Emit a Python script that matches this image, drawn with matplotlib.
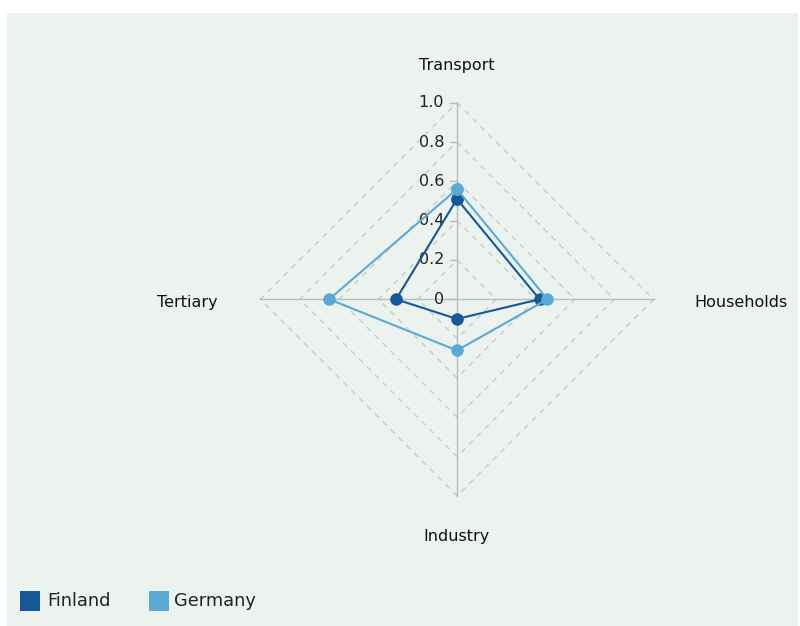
import numpy as np
import matplotlib
matplotlib.use("Agg")
import matplotlib.pyplot as plt
from matplotlib.patches import Rectangle

plt.rcParams["font.family"] = ["DejaVu Sans"]

# axes of the radar: top, right, bottom, left
categories = ["Transport", "Households", "Industry", "Tertiary"]
finland = [0.51, 0.42, 0.10, 0.31]
germany = [0.56, 0.46, 0.26, 0.65]
tick_values = [0, 0.2, 0.4, 0.6, 0.8, 1.0]
tick_labels = ["0", "0.2", "0.4", "0.6", "0.8", "1.0"]

c_fin = "#15589a"
c_ger = "#5aaad6"
bg = "#ecf2ee"

angles = np.pi / 2 - np.arange(len(categories)) * np.pi / 2


def to_xy(vals):
    vals = np.asarray(vals, dtype=float)
    x = vals * np.cos(angles)
    y = vals * np.sin(angles)
    return np.append(x, x[0]), np.append(y, y[0])


fig = plt.figure(figsize=(8.0, 6.26), dpi=100)
fig.patch.set_facecolor("white")
fig.patches.append(Rectangle((7 / 800, 0), 1 - 9 / 800, 1 - 13 / 626,
                             transform=fig.transFigure, facecolor=bg,
                             edgecolor="none", zorder=-5))

ax = fig.add_axes([0, 0, 1, 1])
ax.set_facecolor("none")
scale = 196.6
cx, cy = 457, 299.3
ax.set_xlim(-cx / scale, (800 - cx) / scale)
ax.set_ylim((cy - 626) / scale, cy / scale)
ax.axis("off")

# dashed diamond grid
for r in tick_values[1:]:
    gx, gy = to_xy([r] * len(categories))
    ax.plot(gx, gy, color="#c8cbc9", lw=1, ls=(0, (4, 4)), zorder=1)

# spokes
for a in angles:
    ax.plot([0, np.cos(a)], [0, np.sin(a)], color="#b9bcba", lw=1, zorder=2)

# ticks on the top spoke
for v, lab in zip(tick_values, tick_labels):
    ax.plot([-0.035, 0], [v, v], color="#b9bcba", lw=1, zorder=2)
    ax.text(-0.065, v, lab, ha="right", va="center", fontsize=11.5,
            color="#222222", zorder=3)

# series
for vals, col in [(finland, c_fin), (germany, c_ger)]:
    x, y = to_xy(vals)
    ax.plot(x, y, color=col, lw=1.5, marker="o", markersize=9,
            markeredgewidth=0, zorder=4)

# category labels
lab_kw = dict(va="center", fontsize=11.5, color="#111111")
ax.text(0, 1.187, categories[0], ha="center", **lab_kw)
ax.text(1.205, -0.015, categories[1], ha="left", **lab_kw)
ax.text(0, -1.209, categories[2], ha="center", **lab_kw)
ax.text(-1.216, -0.015, categories[3], ha="right", **lab_kw)

# legend
fig.patches.append(Rectangle((20 / 800, 1 - 611 / 626), 20 / 800, 20 / 626,
                             transform=fig.transFigure, facecolor=c_fin,
                             edgecolor="none", zorder=2))
fig.text(47 / 800, 1 - 601 / 626, "Finland", ha="left", va="center",
         fontsize=12.8, color="#222222")
fig.patches.append(Rectangle((149 / 800, 1 - 611 / 626), 20 / 800, 20 / 626,
                             transform=fig.transFigure, facecolor=c_ger,
                             edgecolor="none", zorder=2))
fig.text(174 / 800, 1 - 601 / 626, "Germany", ha="left", va="center",
         fontsize=12.8, color="#222222")

fig.savefig("out.png", dpi=100, facecolor=fig.get_facecolor())
